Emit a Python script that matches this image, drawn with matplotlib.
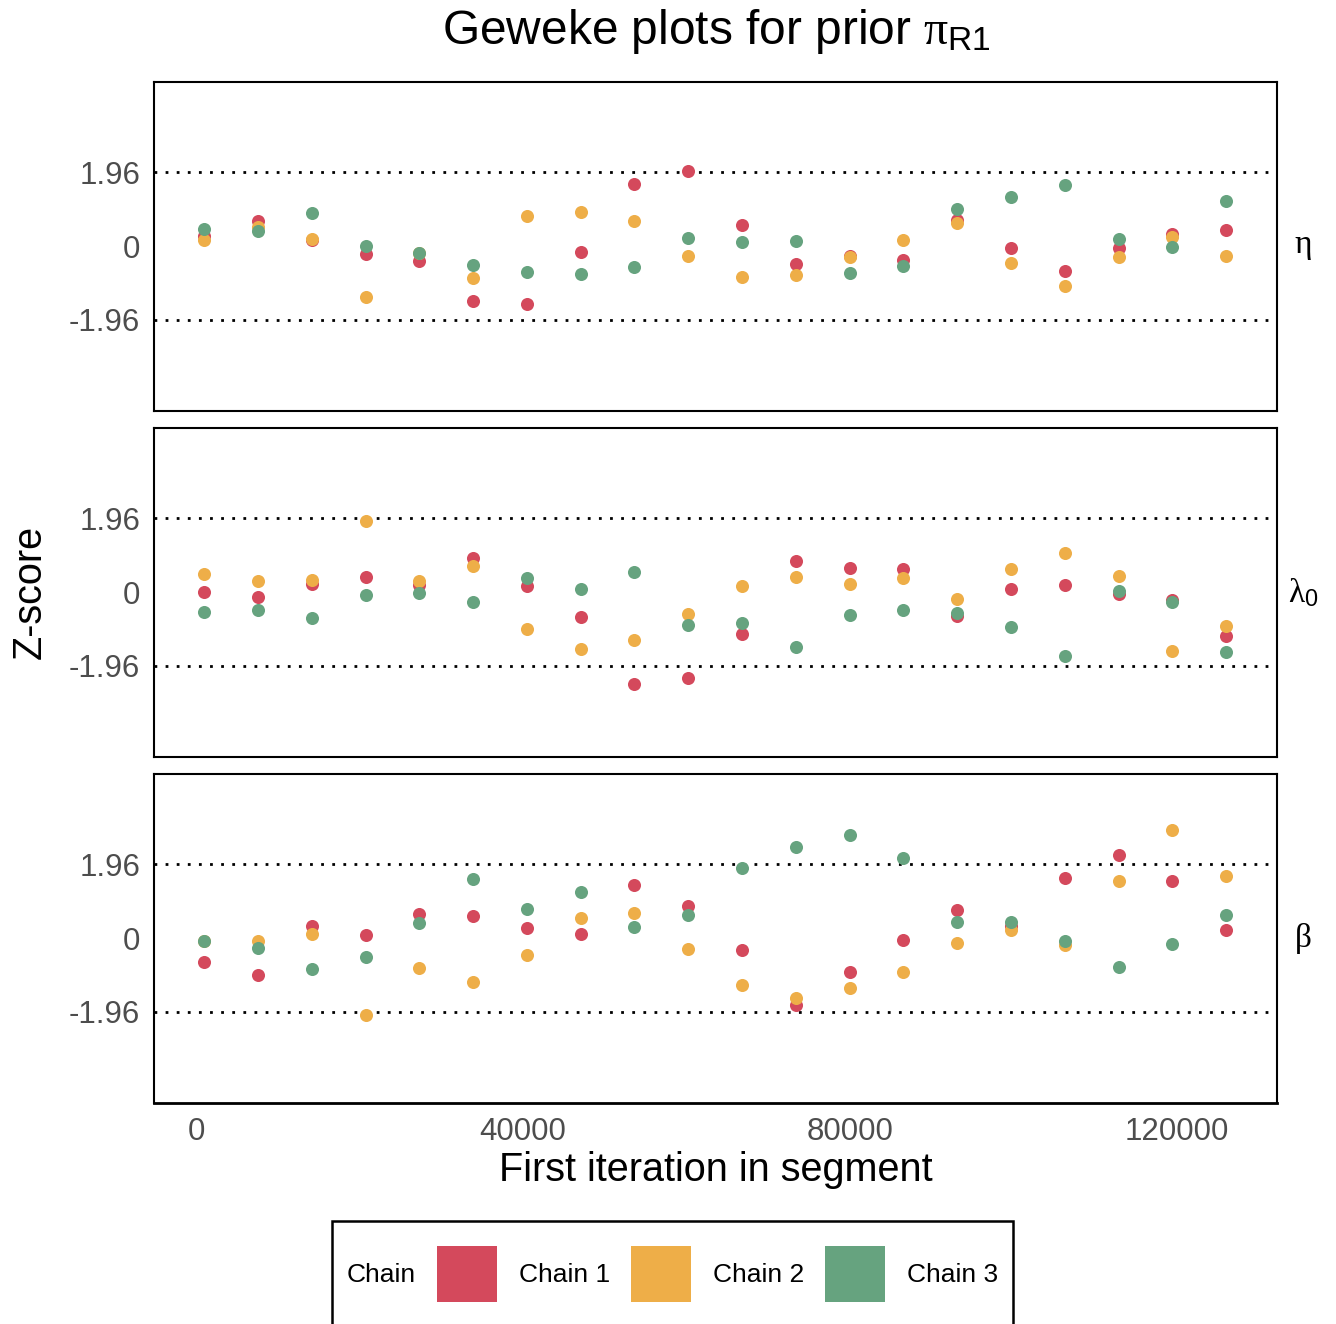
import matplotlib
matplotlib.use("Agg")
import matplotlib.pyplot as plt
from matplotlib.patches import Rectangle

plt.rcParams["font.family"] = ["Liberation Sans", "DejaVu Sans"]
plt.rcParams["mathtext.fontset"] = "custom"
plt.rcParams["mathtext.rm"] = "Liberation Sans"
plt.rcParams["mathtext.it"] = "Liberation Serif"
plt.rcParams["mathtext.bf"] = "Liberation Sans:bold"

# First iteration of each Geweke segment
iterations = [1000, 7579, 14158, 20737, 27316, 33895, 40474, 47053, 53632, 60211,
              66789, 73368, 79947, 86526, 93105, 99684, 106263, 112842, 119421, 126000]

# Z-scores per parameter and chain
eta_chain1 = [0.27, 0.66, 0.16, -0.20, -0.39, -1.45, -1.54, -0.15, 1.65, 1.99,
              0.56, -0.48, -0.25, -0.36, 0.70, -0.06, -0.66, -0.06, 0.33, 0.42]
eta_chain2 = [0.15, 0.52, 0.20, -1.35, -0.19, -0.84, 0.79, 0.90, 0.66, -0.27,
              -0.83, -0.78, -0.30, 0.15, 0.61, -0.45, -1.07, -0.28, 0.24, -0.26]
eta_chain3 = [0.46, 0.39, 0.87, 0.01, -0.17, -0.50, -0.70, -0.75, -0.55, 0.21,
              0.10, 0.14, -0.72, -0.54, 0.99, 1.30, 1.63, 0.20, -0.01, 1.21]

lambda0_chain1 = [0.00, -0.14, 0.21, 0.39, 0.19, 0.90, 0.15, -0.67, -2.44, -2.27,
                  -1.10, 0.84, 0.63, 0.62, -0.63, 0.08, 0.18, -0.05, -0.21, -1.16]
lambda0_chain2 = [0.47, 0.30, 0.32, 1.90, 0.30, 0.70, -0.97, -1.50, -1.26, -0.57,
                  0.16, 0.41, 0.21, 0.37, -0.17, 0.62, 1.04, 0.44, -1.57, -0.90]
lambda0_chain3 = [-0.53, -0.47, -0.68, -0.08, -0.03, -0.26, 0.37, 0.09, 0.53, -0.87,
                  -0.83, -1.47, -0.61, -0.47, -0.56, -0.92, -1.71, 0.02, -0.27, -1.58]

beta_chain1 = [-0.63, -0.99, 0.33, 0.08, 0.63, 0.58, 0.26, 0.11, 1.41, 0.85,
               -0.32, -1.77, -0.90, -0.04, 0.75, 0.31, 1.60, 2.21, 1.53, 0.22]
beta_chain2 = [-0.08, -0.08, 0.10, -2.05, -0.79, -1.16, -0.46, 0.54, 0.68, -0.28,
               -1.24, -1.58, -1.33, -0.90, -0.13, 0.21, -0.18, 1.52, 2.87, 1.66]
beta_chain3 = [-0.08, -0.27, -0.83, -0.51, 0.40, 1.56, 0.78, 1.23, 0.30, 0.61,
               1.85, 2.42, 2.74, 2.14, 0.43, 0.42, -0.07, -0.76, -0.16, 0.62]

parameters = [r"$\eta$", r"$\lambda_{\mathrm{0}}$", r"$\beta$"]
chain_labels = ["Chain 1", "Chain 2", "Chain 3"]
chain_colors = ["#D4495C", "#EEAE48", "#66A37F"]
panels = [
    [eta_chain1, eta_chain2, eta_chain3],
    [lambda0_chain1, lambda0_chain2, lambda0_chain3],
    [beta_chain1, beta_chain2, beta_chain3],
]
y_ticks = [-1.96, 0, 1.96]
y_tick_labels = ["-1.96", "0", "1.96"]
x_ticks = [0, 40000, 80000, 120000]
x_tick_labels = ["0", "40000", "80000", "120000"]

W, H = 1336, 1324
fig = plt.figure(figsize=(W / 100, H / 100), dpi=100)

left_px, right_px = 154, 1277
panel_px = [(82, 411), (428, 757), (774, 1103)]
tick_grey = "#4D4D4D"

for i, ((top, bot), series, pname) in enumerate(zip(panel_px, panels, parameters)):
    ax = fig.add_axes([left_px / W, 1 - bot / H, (right_px - left_px) / W, (bot - top) / H])
    for vals, col in zip(series, chain_colors):
        ax.plot(iterations, vals, "o", color=col, markersize=9.4, markeredgewidth=0,
                zorder=3)
    for yv in (1.96, -1.96):
        ax.axhline(yv, color="black", lw=2.0, linestyle=(0, (1, 3)), zorder=2)
    ax.set_xlim(-5140, 132230)
    ax.set_ylim(-4.38, 4.36)
    ax.set_yticks(y_ticks)
    ax.set_yticklabels(y_tick_labels, fontsize=22.5, color=tick_grey)
    ax.set_xticks(x_ticks)
    if i == 2:
        ax.set_xticklabels(x_tick_labels, fontsize=22.5, color=tick_grey)
    else:
        ax.set_xticklabels([])
    ax.tick_params(length=0, pad=10)
    for sp in ax.spines.values():
        sp.set_linewidth(1.5)
        sp.set_color("black")
    ax.spines["bottom"].set_linewidth(2.0 if i == 2 else 1.5)
    fig.text(1303 / W, 1 - (top + bot) / 2 / H, pname, fontsize=24,
             ha="center", va="center")

fig.text(716 / W, 1 - 31 / H, r"Geweke plots for prior $\pi_{\mathrm{R1}}$",
         fontsize=34.5, ha="center", va="center")
fig.text(716 / W, 1 - 1170 / H, "First iteration in segment", fontsize=28.5,
         ha="center", va="center")
fig.text(30 / W, 1 - 592 / H, "Z-score", fontsize=28.5, rotation=90,
         ha="center", va="center")

# Legend box along the bottom edge
fig.patches.append(Rectangle((332 / W, -0.05), (1013 - 332) / W, 0.05 + 1 - 1221 / H,
                             transform=fig.transFigure, facecolor="white",
                             edgecolor="black", lw=1.8))
legend_y = 1 - 1275 / H
fig.text(347 / W, legend_y, "Chain", fontsize=19, ha="left", va="center")
key_x = [437, 631, 825]
for kx, col, lab in zip(key_x, chain_colors, chain_labels):
    fig.patches.append(Rectangle((kx / W, 1 - 1302 / H), 60 / W, 56 / H,
                                 transform=fig.transFigure, facecolor=col,
                                 edgecolor="none"))
    fig.text((kx + 82) / W, legend_y, lab, fontsize=19, ha="left", va="center")

fig.savefig("out.png", dpi=100)
